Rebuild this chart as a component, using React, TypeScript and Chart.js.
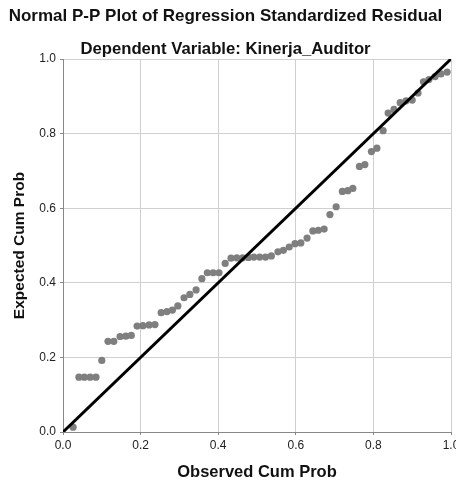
import React, { useEffect, useRef } from "react";
import { Chart, registerables } from "chart.js";

Chart.register(...registerables);

const observedCumProb = [
  0.026, 0.041, 0.055, 0.07, 0.085, 0.1, 0.116, 0.131, 0.147, 0.162, 0.176, 0.191, 0.206,
  0.222, 0.237, 0.253, 0.268, 0.282, 0.296, 0.312, 0.327, 0.343, 0.358, 0.372, 0.387,
  0.402, 0.418, 0.433, 0.448, 0.463, 0.478, 0.492, 0.507, 0.522, 0.537, 0.554, 0.568,
  0.583, 0.598, 0.613, 0.629, 0.644, 0.658, 0.673, 0.688, 0.704, 0.72, 0.734, 0.747,
  0.764, 0.778, 0.795, 0.809, 0.825, 0.838, 0.853, 0.869, 0.884, 0.9, 0.915, 0.929,
  0.943, 0.959, 0.974, 0.99,
];

const expectedCumProb = [
  0.013, 0.147, 0.147, 0.147, 0.147, 0.192, 0.243, 0.243, 0.256, 0.257, 0.259, 0.284, 0.285,
  0.287, 0.288, 0.32, 0.323, 0.327, 0.338, 0.36, 0.369, 0.381, 0.411, 0.427, 0.427,
  0.427, 0.452, 0.466, 0.467, 0.467, 0.468, 0.469, 0.469, 0.469, 0.472, 0.483, 0.487,
  0.496, 0.505, 0.507, 0.52, 0.539, 0.541, 0.544, 0.583, 0.604, 0.645, 0.647, 0.653,
  0.712, 0.717, 0.752, 0.761, 0.808, 0.855, 0.865, 0.883, 0.888, 0.89, 0.909, 0.939,
  0.945, 0.953, 0.96, 0.965,
];

const diagonalX = [0, 1];
const diagonalY = [0, 1];

const titleText = "Normal P-P Plot of Regression Standardized Residual";
const subtitleText = "Dependent Variable: Kinerja_Auditor";
const xTitle = "Observed Cum Prob";
const yTitle = "Expected Cum Prob";

const FONT = "'Liberation Sans', Arial, sans-serif";

export default function App() {
  const ref = useRef<HTMLCanvasElement | null>(null);

  useEffect(() => {
    document.body.style.margin = "0";
    document.body.style.overflow = "hidden";
    const canvas = ref.current;
    if (!canvas) return;
    const chart = new Chart(canvas, {
      type: "scatter",
      data: {
        datasets: [
          {
            type: "line",
            data: diagonalX.map((x, i) => ({ x, y: diagonalY[i] })),
            borderColor: "#000000",
            borderWidth: 3,
            pointRadius: 0,
            fill: false,
          } as any,
          {
            data: observedCumProb.map((x, i) => ({ x, y: expectedCumProb[i] })),
            backgroundColor: "#7f7f7f",
            borderWidth: 0,
            pointRadius: 3.6,
          },
        ],
      },
      options: {
        animation: false,
        responsive: false,
        devicePixelRatio: 1,
        layout: { autoPadding: false, padding: { left: 0, right: 5, top: 0, bottom: 0 } },
        plugins: {
          legend: { display: false },
          tooltip: { enabled: false },
          title: {
            display: true,
            text: titleText,
            color: "#111",
            font: { family: FONT, size: 17, weight: "bold" },
            padding: { top: 5.8, bottom: 7 },
          },
          subtitle: {
            display: true,
            text: subtitleText,
            color: "#111",
            font: { family: FONT, size: 16.7, weight: "bold" },
            padding: { top: 5.8, bottom: 0 },
          },
        },
        scales: {
          x: {
            type: "linear",
            min: 0,
            max: 1,
            afterFit: (s: any) => {
              s.height = 52;
              s.paddingLeft = 0;
              s.paddingRight = 0;
            },
            ticks: {
              stepSize: 0.2,
              callback: (v: any) => Number(v).toFixed(1),
              color: "#222",
              font: { family: FONT, size: 12 },
              padding: 3,
              maxRotation: 0,
            },
            grid: { color: "#d0d0d0", lineWidth: 1, tickLength: 3, tickColor: "#888" },
            border: { color: "#888", width: 1 },
            title: {
              display: true,
              text: xTitle,
              color: "#111",
              font: { family: FONT, size: 16.5, weight: "bold" },
              padding: { top: 0, bottom: 2 },
            },
          },
          y: {
            type: "linear",
            min: 0,
            max: 1,
            afterFit: (s: any) => {
              s.width = 63;
              s.paddingTop = 0;
              s.paddingBottom = 0;
            },
            ticks: {
              stepSize: 0.2,
              callback: (v: any) => Number(v).toFixed(1),
              color: "#222",
              font: { family: FONT, size: 12 },
              padding: 4,
            },
            grid: { color: "#d0d0d0", lineWidth: 1, tickLength: 3, tickColor: "#888" },
            border: { color: "#888", width: 1 },
            title: {
              display: true,
              text: yTitle,
              color: "#111",
              font: { family: FONT, size: 15.5, weight: "bold" },
              padding: { top: 10, bottom: 0 },
            },
          },
        },
      },
    });
    return () => chart.destroy();
  }, []);

  return (
    <div style={{ width: 456, height: 484 }}>
      <canvas ref={ref} width={456} height={484} />
    </div>
  );
}
